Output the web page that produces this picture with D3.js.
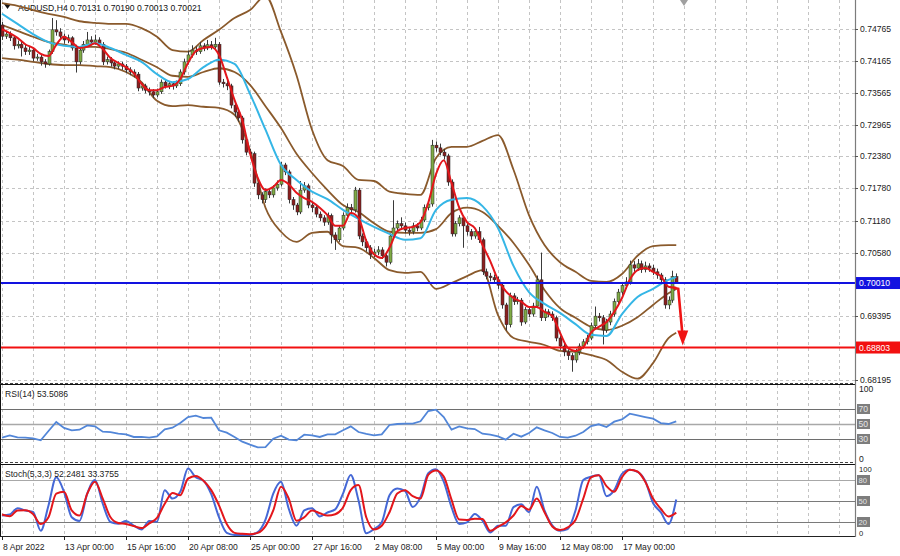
<!DOCTYPE html>
<html>
<head>
<meta charset="utf-8">
<script src="https://cdn.jsdelivr.net/npm/d3@7"></script>
<style>
  html, body { margin: 0; padding: 0; background: #ffffff; }
  svg { display: block; font-family: "Liberation Sans", Arial, sans-serif; }
</style>
</head>
<body>
<div id="chart"></div>
<script>
// ---- candles (AUDUSD H4, bar 0 = 8 Apr 2022 08:00) ----
const opens = [
  0.7484,0.7463,0.7467,0.7460,0.7445,0.7448,0.7441,0.7434,0.7437,0.7422,
  0.7424,0.7415,0.7411,0.7434,0.7475,0.7471,0.7463,0.7456,0.7460,0.7441,
  0.7415,0.7437,0.7448,0.7456,0.7452,0.7456,0.7448,0.7415,0.7419,0.7413,
  0.7407,0.7411,0.7407,0.7400,0.7396,0.7392,0.7366,0.7370,0.7362,0.7359,
  0.7353,0.7359,0.7377,0.7370,0.7374,0.7370,0.7374,0.7396,0.7415,0.7428,
  0.7437,0.7434,0.7445,0.7441,0.7447,0.7443,0.7448,0.7377,0.7374,0.7370,
  0.7334,0.7321,0.7310,0.7269,0.7246,0.7243,0.7188,0.7166,0.7157,0.7172,
  0.7166,0.7179,0.7186,0.7222,0.7209,0.7157,0.7147,0.7134,0.7175,0.7183,
  0.7147,0.7142,0.7130,0.7123,0.7115,0.7127,0.7091,0.7082,0.7104,0.7128,
  0.7142,0.7138,0.7175,0.7089,0.7078,0.7067,0.7054,0.7059,0.7063,0.7052,
  0.7040,0.7089,0.7104,0.7112,0.7108,0.7100,0.7097,0.7108,0.7104,0.7119,
  0.7142,0.7149,0.7259,0.7254,0.7246,0.7239,0.7190,0.7093,0.7112,0.7123,
  0.7108,0.7097,0.7089,0.7097,0.7082,0.7022,0.7014,0.7011,0.7007,0.6997,
  0.6960,0.6923,0.6977,0.6966,0.6969,0.6928,0.6951,0.6943,0.6958,0.7007,
  0.6936,0.6947,0.6943,0.6936,0.6898,0.6883,0.6872,0.6865,0.6857,0.6872,
  0.6883,0.6891,0.6898,0.6921,0.6939,0.6936,0.6913,0.6928,0.6943,0.6966,
  0.6984,0.6996,0.7003,0.7035,0.7029,0.7037,0.7026,0.7033,0.7029,0.7022,
  0.7016,0.7007,0.6960,0.6969,0.70131
];
const highs = [
  0.7490,0.7473,0.7472,0.7464,0.7455,0.7453,0.7447,0.7443,0.7441,0.7430,
  0.7428,0.7420,0.7438,0.7497,0.7493,0.7478,0.7468,0.7466,0.7463,0.7447,
  0.7441,0.7454,0.7471,0.7463,0.7466,0.7461,0.7452,0.7425,0.7424,0.7417,
  0.7416,0.7415,0.7411,0.7405,0.7401,0.7396,0.7376,0.7374,0.7367,0.7364,
  0.7365,0.7382,0.7381,0.7379,0.7378,0.7380,0.7401,0.7421,0.7436,0.7446,
  0.7444,0.7452,0.7450,0.7456,0.7454,0.7460,0.7452,0.7383,0.7380,0.7374,
  0.7340,0.7327,0.7314,0.7275,0.7252,0.7247,0.7193,0.7171,0.7178,0.7177,
  0.7184,0.7193,0.7228,0.7226,0.7213,0.7162,0.7151,0.7192,0.7190,0.7187,
  0.7153,0.7147,0.7135,0.7128,0.7133,0.7131,0.7096,0.7109,0.7133,0.7150,
  0.7149,0.7181,0.7179,0.7094,0.7083,0.7072,0.7065,0.7070,0.7068,0.7057,
  0.7094,0.7156,0.7118,0.7124,0.7114,0.7106,0.7114,0.7113,0.7125,0.7148,
  0.7156,0.7269,0.7266,0.7262,0.7252,0.7243,0.7195,0.7117,0.7128,0.7127,
  0.7113,0.7102,0.7103,0.7106,0.7086,0.7028,0.7020,0.7017,0.7013,0.7001,
  0.6964,0.6983,0.6982,0.6975,0.6973,0.6956,0.6956,0.6964,0.7015,0.7058,
  0.6953,0.6952,0.6948,0.6940,0.6903,0.6888,0.6877,0.6870,0.6878,0.6888,
  0.6896,0.6904,0.6927,0.6957,0.6945,0.6941,0.6934,0.6949,0.6972,0.6990,
  0.7003,0.7012,0.7043,0.7042,0.7046,0.7043,0.7041,0.7038,0.7035,0.7028,
  0.7020,0.7012,0.6976,0.7024,0.70190
];
const lows = [
  0.7456,0.7458,0.7454,0.7438,0.7440,0.7425,0.7428,0.7428,0.7416,0.7417,
  0.7408,0.7404,0.7408,0.7430,0.7464,0.7456,0.7449,0.7450,0.7436,0.7395,
  0.7410,0.7432,0.7444,0.7446,0.7447,0.7442,0.7409,0.7410,0.7406,0.7401,
  0.7402,0.7400,0.7394,0.7390,0.7386,0.7360,0.7361,0.7356,0.7352,0.7347,
  0.7349,0.7355,0.7365,0.7364,0.7363,0.7366,0.7370,0.7391,0.7410,0.7423,
  0.7428,0.7430,0.7435,0.7437,0.7438,0.7438,0.7372,0.7367,0.7362,0.7328,
  0.7312,0.7303,0.7262,0.7240,0.7236,0.7181,0.7158,0.7150,0.7151,0.7160,
  0.7161,0.7174,0.7182,0.7203,0.7150,0.7138,0.7128,0.7130,0.7170,0.7141,
  0.7134,0.7124,0.7117,0.7108,0.7110,0.7075,0.7063,0.7078,0.7100,0.7123,
  0.7131,0.7133,0.7083,0.7070,0.7060,0.7046,0.7049,0.7053,0.7046,0.7032,
  0.7036,0.7085,0.7098,0.7101,0.7094,0.7090,0.7092,0.7098,0.7100,0.7115,
  0.7137,0.7144,0.7247,0.7240,0.7232,0.7183,0.7088,0.7088,0.7107,0.7067,
  0.7090,0.7082,0.7084,0.7076,0.7016,0.7008,0.7004,0.7000,0.6990,0.6953,
  0.6912,0.6918,0.6960,0.6961,0.6921,0.6924,0.6937,0.6938,0.6954,0.6930,
  0.6930,0.6937,0.6930,0.6892,0.6876,0.6864,0.6857,0.6835,0.6852,0.6866,
  0.6878,0.6886,0.6894,0.6916,0.6929,0.6886,0.6908,0.6922,0.6938,0.6960,
  0.6978,0.6990,0.6998,0.7022,0.7024,0.7020,0.7021,0.7022,0.7016,0.7009,
  0.6999,0.6953,0.6952,0.6964,0.70013
];
const closes = [
  0.7463,0.7467,0.7460,0.7445,0.7448,0.7441,0.7434,0.7437,0.7422,0.7424,
  0.7415,0.7411,0.7434,0.7475,0.7471,0.7463,0.7456,0.7460,0.7441,0.7415,
  0.7437,0.7448,0.7456,0.7452,0.7456,0.7448,0.7415,0.7419,0.7413,0.7407,
  0.7411,0.7407,0.7400,0.7396,0.7392,0.7366,0.7370,0.7362,0.7359,0.7353,
  0.7359,0.7377,0.7370,0.7374,0.7370,0.7374,0.7396,0.7415,0.7428,0.7437,
  0.7434,0.7445,0.7441,0.7447,0.7443,0.7448,0.7377,0.7374,0.7370,0.7334,
  0.7321,0.7310,0.7269,0.7246,0.7243,0.7188,0.7166,0.7157,0.7172,0.7166,
  0.7179,0.7186,0.7222,0.7209,0.7157,0.7147,0.7134,0.7175,0.7183,0.7147,
  0.7142,0.7130,0.7123,0.7115,0.7127,0.7091,0.7082,0.7104,0.7128,0.7142,
  0.7138,0.7175,0.7089,0.7078,0.7067,0.7054,0.7059,0.7063,0.7052,0.7040,
  0.7089,0.7104,0.7112,0.7108,0.7100,0.7097,0.7108,0.7104,0.7119,0.7142,
  0.7149,0.7259,0.7254,0.7246,0.7239,0.7190,0.7093,0.7112,0.7123,0.7108,
  0.7097,0.7089,0.7097,0.7082,0.7022,0.7014,0.7011,0.7007,0.6997,0.6960,
  0.6923,0.6977,0.6966,0.6969,0.6928,0.6951,0.6943,0.6958,0.7007,0.6936,
  0.6947,0.6943,0.6936,0.6898,0.6883,0.6872,0.6865,0.6857,0.6872,0.6883,
  0.6891,0.6898,0.6921,0.6939,0.6936,0.6913,0.6928,0.6943,0.6966,0.6984,
  0.6996,0.7003,0.7035,0.7029,0.7037,0.7026,0.7033,0.7029,0.7022,0.7016,
  0.7007,0.6960,0.6969,0.70131,0.70021
];

// ---- indicators, every 4th bar (+ last bar) ----
const bbUpper = [0.7525,0.7520,0.7512,0.7505,0.7499,0.7491,0.7488,0.7486,0.7486,0.7478,0.7462,0.7437,0.7434,0.7456,0.7475,0.7497,0.7512,0.7538,0.7471,0.7390,0.7288,0.7231,0.7220,0.7194,0.7192,0.7172,0.7168,0.7166,0.7235,0.7256,0.7256,0.7267,0.7278,0.7213,0.7128,0.7072,0.7040,0.7022,0.7005,0.7003,0.7018,0.7052,0.7070,0.7072,0.7072];
const bbMiddle = [0.7484,0.7473,0.7462,0.7452,0.7447,0.7443,0.7443,0.7439,0.7432,0.7419,0.7405,0.7389,0.7387,0.7396,0.7403,0.7396,0.7372,0.7332,0.7291,0.7243,0.7207,0.7175,0.7147,0.7134,0.7113,0.7097,0.7095,0.7095,0.7102,0.7132,0.7142,0.7134,0.7108,0.7076,0.7035,0.6988,0.6954,0.6936,0.6919,0.6913,0.6921,0.6937,0.6960,0.6982,0.6990];
const bbLower = [0.7422,0.7419,0.7415,0.7411,0.7409,0.7409,0.7407,0.7405,0.7396,0.7377,0.7342,0.7332,0.7334,0.7331,0.7329,0.7316,0.7250,0.7142,0.7097,0.7078,0.7095,0.7097,0.7070,0.7067,0.7048,0.7025,0.7020,0.7022,0.6990,0.7001,0.7014,0.7025,0.6941,0.6898,0.6891,0.6885,0.6874,0.6872,0.6866,0.6857,0.6835,0.6822,0.6851,0.6898,0.6908];
const maSlow = [0.7505,0.7486,0.7467,0.7452,0.7445,0.7443,0.7450,0.7441,0.7428,0.7415,0.7392,0.7377,0.7383,0.7405,0.7419,0.7411,0.7355,0.7288,0.7222,0.7194,0.7172,0.7158,0.7138,0.7121,0.7106,0.7093,0.7082,0.7085,0.7138,0.7157,0.7160,0.7145,0.7104,0.7033,0.6984,0.6962,0.6945,0.6924,0.6904,0.6902,0.6943,0.6975,0.6990,0.7007,0.7012];

// ---- every 2nd bar ----
const maFast = [0.7476,0.7469,0.7460,0.7448,0.7441,0.7430,0.7426,0.7447,0.7462,0.7452,0.7441,0.7443,0.7450,0.7439,0.7422,0.7413,0.7405,0.7394,0.7374,0.7362,0.7362,0.7368,0.7370,0.7383,0.7413,0.7435,0.7441,0.7443,0.7428,0.7387,0.7344,0.7306,0.7244,0.7198,0.7175,0.7181,0.7194,0.7186,0.7170,0.7160,0.7153,0.7142,0.7128,0.7108,0.7108,0.7132,0.7123,0.7080,0.7055,0.7048,0.7067,0.7098,0.7104,0.7106,0.7115,0.7151,0.7205,0.7231,0.7188,0.7142,0.7115,0.7104,0.7072,0.7042,0.7007,0.6986,0.6973,0.6966,0.6956,0.6956,0.6947,0.6939,0.6908,0.6880,0.6874,0.6881,0.6908,0.6919,0.6928,0.6947,0.6973,0.7007,0.7025,0.7029,0.7022,0.7014,0.6994,0.6992];
const rsi = [31.8,34.9,32.2,31.8,30.9,28.2,40.7,52.7,44.7,41.6,42.4,48.2,46.9,39.8,39.3,37.1,36.2,32.7,32.7,31.8,33.6,42.9,45.1,51.3,59.3,61.1,58.0,58.4,41.6,38.4,32.7,26.4,22.4,18.9,19.3,30.4,34.4,29.1,28.2,35.8,34.9,32.7,36.2,36.2,41.6,46.9,39.3,36.7,34.9,36.2,48.7,50.0,50.4,50.4,53.6,67.3,69.1,59.3,42.4,46.9,44.2,43.3,37.1,35.8,33.6,29.1,37.1,33.1,38.0,45.6,41.6,38.0,32.7,31.8,34.4,39.3,47.3,49.6,46.0,53.1,56.2,63.8,61.6,59.3,57.1,51.3,50.0,53.5];
const stochMain = [29.2,30.7,39.8,36.5,34.5,7.4,43.7,83.9,63.1,26.8,21.5,60.6,80.0,46.1,20.0,17.6,21.5,14.7,9.4,21.5,20.5,65.5,53.4,63.1,96.4,83.9,79.0,59.7,26.8,4.5,1.6,1.6,1.6,5.5,23.4,60.6,77.6,38.9,14.7,36.5,39.8,27.8,33.6,38.0,60.6,87.3,51.0,4.0,9.8,19.5,58.2,67.9,64.5,41.3,55.8,89.7,95.5,77.6,41.3,17.1,19.5,31.6,21.9,5.0,14.7,14.7,41.3,45.2,34.0,70.3,36.5,15.2,7.4,9.8,36.5,80.0,84.8,87.3,56.8,65.5,88.7,94.5,91.6,78.5,47.1,34.0,17.1,52.2];
const stochSignal = [30.7,28.2,36.5,36.9,31.6,17.1,26.8,60.6,63.1,36.5,29.2,60.6,77.6,53.4,26.8,18.6,17.1,14.2,11.3,18.1,25.8,46.1,61.6,58.2,81.9,85.8,79.0,65.5,43.7,17.1,4.5,3.1,2.6,4.5,14.2,36.5,70.3,53.4,21.9,26.8,36.5,32.6,29.2,31.1,40.8,65.5,72.7,26.8,9.4,14.7,34.0,60.6,65.5,56.8,53.4,87.3,93.5,84.8,52.0,23.4,22.9,24.8,24.4,7.4,13.2,19.5,29.2,42.9,37.4,53.4,34.0,13.7,8.4,12.3,22.9,53.4,83.9,86.8,71.3,63.1,83.9,94.5,92.1,77.6,53.4,38.9,27.8,33.4];

// ---- levels, ticks, labels ----
const levelBlue = 0.70010;
const levelRed = 0.68803;
const priceTicks = [0.74765,0.74165,0.73565,0.72965,0.72380,0.71780,0.71180,0.70580,0.69395,0.68195];
const timeLabels = ["8 Apr 2022","13 Apr 00:00","15 Apr 16:00","20 Apr 08:00","25 Apr 00:00","27 Apr 16:00","2 May 08:00","5 May 00:00","9 May 16:00","12 May 08:00","17 May 00:00"];
const rsiLevels = [70, 50, 30];
const stochLevels = [80, 50, 20];
const symbolTitle = "AUDUSD,H4";
const rsiTitle = "RSI(14) 53.5086";
const stochTitle = "Stoch(5,3,3) 52.2481 33.3755";

const width = 900, height = 556;
const plotRight = 855;
const main = { top: 0, bottom: 383 };
const rsiP = { top: 385, bottom: 462 };
const stoP = { top: 465, bottom: 536 };

const fmt = d3.format(".5f");

const svg = d3.select("#chart").append("svg")
  .attr("width", width).attr("height", height);

// scales
const x = d3.scaleLinear().domain([0, 160]).range([2, 622]);
const y = d3.scaleLinear().domain([0.68195, 0.74765]).range([380, 29]);
const yRsi = d3.scaleLinear().domain([0, 100]).range([461.5, 386.5]);
const ySto = d3.scaleLinear().domain([0, 100]).range([536, 466]);

const bars = d3.range(closes.length);
const bars4 = d3.range(0, bars.length - 1, 4).concat([bars.length - 1]);
const bars2 = d3.range(0, bars.length, 2);

// clip paths
const defs = svg.append("defs");
[["clipMain", main], ["clipRsi", rsiP], ["clipSto", stoP]].forEach(([id, p]) => {
  defs.append("clipPath").attr("id", id).append("rect")
    .attr("x", 0).attr("y", p.top).attr("width", plotRight).attr("height", p.bottom - p.top);
});

// ------------
// GRID
// ------------
const gridColor = "#c4c4c4";
const gridBars = d3.range(0, 217, 8);
[main, rsiP, stoP].forEach((p) => {
  svg.append("g").selectAll("line").data(gridBars).enter().append("line")
    .attr("x1", (b) => Math.round(x(b)) + 0.5).attr("x2", (b) => Math.round(x(b)) + 0.5)
    .attr("y1", p.top).attr("y2", p.bottom)
    .attr("stroke", gridColor).attr("stroke-dasharray", "3,3");
});
svg.append("g").selectAll("line").data(priceTicks).enter().append("line")
  .attr("x1", 0).attr("x2", plotRight)
  .attr("y1", (v) => Math.round(y(v)) + 0.5).attr("y2", (v) => Math.round(y(v)) + 0.5)
  .attr("stroke", gridColor).attr("stroke-dasharray", "3,3");

// ------------
// TITLE
// ------------
svg.append("path").attr("d", "M4,4 L11,4 L7.5,9 Z").attr("fill", "#111");
svg.append("text")
  .attr("x", 18).attr("y", 11)
  .attr("font-size", 8.6).attr("fill", "#111")
  .text(`${symbolTitle}  ${fmt(opens[174])} ${fmt(highs[174])} ${fmt(lows[174])} ${fmt(closes[174])}`);

// ------------
// MAIN PANEL
// ------------
const gMain = svg.append("g").attr("clip-path", "url(#clipMain)");

const smooth = (arr, idx, scale) => d3.line()
  .x((d, i) => x(idx[i]))
  .y((d) => scale(d))
  .curve(d3.curveMonotoneX)(arr);

// bollinger bands
[bbUpper, bbMiddle, bbLower].forEach((band) => {
  gMain.append("path").attr("d", smooth(band, bars4, y))
    .attr("fill", "none").attr("stroke", "#8a5a2c").attr("stroke-width", 1.8);
});

// candles
const candles = gMain.append("g").selectAll("g").data(bars).enter().append("g");
candles.append("line")
  .attr("x1", (i) => Math.round(x(i)) + 0.5).attr("x2", (i) => Math.round(x(i)) + 0.5)
  .attr("y1", (i) => y(highs[i])).attr("y2", (i) => y(lows[i]))
  .attr("stroke", "#3a3a3a").attr("stroke-width", 1);
candles.append("rect")
  .attr("x", (i) => Math.round(x(i)) - 1)
  .attr("width", 3)
  .attr("y", (i) => y(Math.max(opens[i], closes[i])))
  .attr("height", (i) => Math.max(1, Math.abs(y(opens[i]) - y(closes[i]))))
  .attr("fill", (i) => closes[i] >= opens[i] ? "#7fab45" : "#8c1f1f")
  .attr("stroke", "#262626").attr("stroke-width", 0.5);

// moving averages
gMain.append("path").attr("d", smooth(maSlow, bars4, y))
  .attr("fill", "none").attr("stroke", "#35b6e6").attr("stroke-width", 2);
gMain.append("path").attr("d", smooth(maFast, bars2, y))
  .attr("fill", "none").attr("stroke", "#e3161b").attr("stroke-width", 2);

// horizontal levels
gMain.append("line").attr("x1", 0).attr("x2", plotRight)
  .attr("y1", y(levelBlue)).attr("y2", y(levelBlue))
  .attr("stroke", "#1212e0").attr("stroke-width", 2);
gMain.append("line").attr("x1", 0).attr("x2", plotRight)
  .attr("y1", y(levelRed)).attr("y2", y(levelRed))
  .attr("stroke", "#f21010").attr("stroke-width", 2);

// arrow from last fast MA down to the red level
const ax = x(bars[bars.length - 1]);
const ay = y(maFast[maFast.length - 1]);
const ty = y(levelRed) - 2;
gMain.append("path")
  .attr("d", `M${ax - 3},${ay} L${ax + 2},${ay + 1} L${ax + 6},${ty - 13}`)
  .attr("fill", "none").attr("stroke", "#f01414").attr("stroke-width", 2.6);
gMain.append("path")
  .attr("d", `M${ax + 1},${ty - 15} L${ax + 12},${ty - 15} L${ax + 6.5},${ty} Z`)
  .attr("fill", "#f01414");

// chart shift marker
svg.append("path").attr("d", `M${x(176) - 4},0 L${x(176) + 4},0 L${x(176)},6 Z`).attr("fill", "#a0a0a0");

// ------------
// RSI PANEL
// ------------
const gRsi = svg.append("g").attr("clip-path", "url(#clipRsi)");
gRsi.selectAll("line").data(rsiLevels).enter().append("line")
  .attr("x1", 0).attr("x2", plotRight)
  .attr("y1", (v) => Math.round(yRsi(v)) + 0.5).attr("y2", (v) => Math.round(yRsi(v)) + 0.5)
  .attr("stroke", (v) => v === 50 ? "#a8a8a8" : "#6e6e6e")
  .attr("stroke-width", (v) => v === 50 ? 1.5 : 1);
gRsi.append("path")
  .attr("d", d3.line().x((d, i) => x(bars2[i])).y((d) => yRsi(d))(rsi))
  .attr("fill", "none").attr("stroke", "#5286d8").attr("stroke-width", 1.8);
svg.append("text").attr("x", 5).attr("y", rsiP.top + 12)
  .attr("font-size", 8.6).attr("fill", "#222").text(rsiTitle);

// ------------
// STOCH PANEL
// ------------
const gSto = svg.append("g").attr("clip-path", "url(#clipSto)");
gSto.selectAll("line").data(stochLevels).enter().append("line")
  .attr("x1", 0).attr("x2", plotRight)
  .attr("y1", (v) => Math.round(ySto(v)) + 0.5).attr("y2", (v) => Math.round(ySto(v)) + 0.5)
  .attr("stroke", (v) => v === 80 ? "#a8a8a8" : "#7a7a7a").attr("stroke-width", 1);
gSto.append("path").attr("d", smooth(stochMain, bars2, ySto))
  .attr("fill", "none").attr("stroke", "#4568d6").attr("stroke-width", 2);
gSto.append("path").attr("d", smooth(stochSignal, bars2, ySto))
  .attr("fill", "none").attr("stroke", "#e3161b").attr("stroke-width", 2);
svg.append("text").attr("x", 5).attr("y", stoP.top + 12)
  .attr("font-size", 8.6).attr("fill", "#222").text(stochTitle);

// ------------
// FRAMES
// ------------
svg.append("line").attr("x1", 0.5).attr("x2", 0.5).attr("y1", 0).attr("y2", stoP.bottom)
  .attr("stroke", "#111");
[rsiP, stoP].forEach((p) => {
  svg.append("line").attr("x1", 0).attr("x2", plotRight)
    .attr("y1", p.top - 0.5).attr("y2", p.top - 0.5).attr("stroke", "#111");
});
[main, rsiP].forEach((p) => {
  svg.append("line").attr("x1", 0).attr("x2", plotRight)
    .attr("y1", p.bottom + 0.5).attr("y2", p.bottom + 0.5)
    .attr("stroke", "#444").attr("stroke-dasharray", "3,2");
});
svg.append("line").attr("x1", 0).attr("x2", plotRight)
  .attr("y1", stoP.bottom + 0.5).attr("y2", stoP.bottom + 0.5).attr("stroke", "#222");
svg.append("line").attr("x1", plotRight + 0.5).attr("x2", plotRight + 0.5)
  .attr("y1", 0).attr("y2", stoP.bottom + 1).attr("stroke", "#7c7c7c").attr("stroke-width", 1.2);

// ------------
// PRICE AXIS
// ------------
const axisG = svg.append("g");
axisG.selectAll("line").data(priceTicks).enter().append("line")
  .attr("x1", plotRight).attr("x2", plotRight + 3)
  .attr("y1", (v) => Math.round(y(v)) + 0.5).attr("y2", (v) => Math.round(y(v)) + 0.5)
  .attr("stroke", "#555");
axisG.selectAll("text").data(priceTicks).enter().append("text")
  .attr("x", plotRight + 5).attr("y", (v) => y(v)).attr("dy", "0.35em")
  .attr("font-size", 8.6).attr("fill", "#222")
  .text((v) => fmt(v));

[[levelBlue, "#1212e0"], [levelRed, "#f21010"]].forEach(([v, c]) => {
  svg.append("rect").attr("x", plotRight + 1).attr("y", y(v) - 6)
    .attr("width", 44).attr("height", 12).attr("fill", c);
  svg.append("text").attr("x", plotRight + 4).attr("y", y(v)).attr("dy", "0.35em")
    .attr("font-size", 8.6).attr("fill", "#ffffff").text(fmt(v));
});

// sub-panel scales
function panelLabels(levels, scale, p, fs) {
  svg.append("text").attr("x", plotRight + 4).attr("y", p.top + 4).attr("dy", "0.35em")
    .attr("font-size", fs).attr("fill", "#222").text("100");
  svg.append("text").attr("x", plotRight + 4).attr("y", p.bottom - 3).attr("dy", "0.35em")
    .attr("font-size", fs).attr("fill", "#222").text("0");
  levels.forEach((v) => {
    svg.append("rect").attr("x", plotRight + 2).attr("y", scale(v) - 5)
      .attr("width", 13).attr("height", 10).attr("fill", "#7d7d7d");
    svg.append("text").attr("x", plotRight + 3.5).attr("y", scale(v)).attr("dy", "0.35em")
      .attr("font-size", fs).attr("fill", "#e6e6e6").text(v);
  });
}
panelLabels(rsiLevels, yRsi, rsiP, 8.6);
panelLabels(stochLevels, ySto, stoP, 7.6);

// ------------
// TIME AXIS
// ------------
const timeG = svg.append("g");
timeG.selectAll("line").data(timeLabels).enter().append("line")
  .attr("x1", (d, i) => Math.round(x(i * 16)) + 0.5).attr("x2", (d, i) => Math.round(x(i * 16)) + 0.5)
  .attr("y1", stoP.bottom).attr("y2", stoP.bottom + 4)
  .attr("stroke", "#222");
timeG.selectAll("text").data(timeLabels).enter().append("text")
  .attr("x", (d, i) => x(i * 16) + 1).attr("y", 550)
  .attr("font-size", 8.6).attr("fill", "#222")
  .text((d) => d);
</script>
</body>
</html>
